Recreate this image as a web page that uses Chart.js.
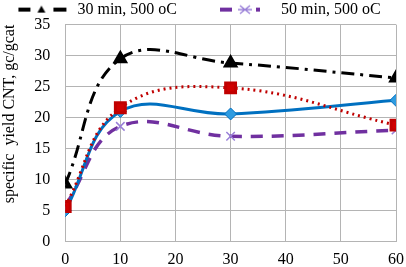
<!DOCTYPE html>
<html><head><meta charset="utf-8">
<script src="https://cdn.jsdelivr.net/npm/chart.js@4/dist/chart.umd.min.js"></script>
<style>html,body{margin:0;padding:0;background:#fff}#w{width:406px;height:267px}</style>
</head><body><div id="w"><canvas id="c"></canvas></div>
<script>
const xValues = [0, 10, 30, 60];
const s30min = [9.3, 29.5, 28.8, 26.4];
const sRed = [5.7, 21.6, 24.8, 18.8];
const sBlue = [5.0, 21.0, 20.6, 22.8];
const s50min = [5.8, 18.6, 17.0, 18.0];
const yTicks = [0, 5, 10, 15, 20, 25, 30, 35];
const xTicks = [0, 10, 20, 30, 40, 50, 60];
const legendNames = ['30 min, 500 oC', '', '', '50 min, 500 oC'];

function pts(v){ return xValues.map((x,i)=>({x:x,y:v[i]})); }

function sampleImg(kind){
  const W = 80, H = 14, off = -6;
  const c = document.createElement('canvas'); c.width = W; c.height = H;
  const g = c.getContext('2d');
  const cx = W/2 + off;
  if (kind === 'tri'){
    g.fillStyle = '#000';
    g.fillRect(cx-23, 5, 12, 4); g.fillRect(cx+12, 5, 13, 4);
    g.beginPath(); g.moveTo(cx, 3); g.lineTo(cx+4, 10); g.lineTo(cx-4, 10); g.closePath(); g.fill();
  } else {
    g.fillStyle = '#7030a0';
    g.fillRect(cx-25, 5, 12, 4); g.fillRect(cx+11, 5, 4, 4);
    g.strokeStyle = '#9a80d8'; g.lineWidth = 1.5;
    g.beginPath(); g.moveTo(cx-5,3); g.lineTo(cx+5,11); g.moveTo(cx-5,11); g.lineTo(cx+5,3); g.moveTo(cx-7,7); g.lineTo(cx+7,7); g.stroke();
  }
  return c;
}
const blank = document.createElement('canvas'); blank.width = 1; blank.height = 1;
const legImgs = [sampleImg('tri'), sampleImg('x')];

new Chart(document.getElementById('c'), {
  type: 'line',
  data: { datasets: [
    { label: legendNames[0], data: pts(s30min), borderColor:'#000', borderWidth:3, borderDash:[13,6,3,6],
      pointStyle:'triangle', pointRadius:6, pointBackgroundColor:'#000', pointBorderColor:'#000', tension:0.4, order:1 },
    { label: legendNames[1], data: pts(sRed), borderColor:'#c00000', borderWidth:3, borderDash:[2,4],
      pointStyle:'rect', pointRadius:7, pointBackgroundColor:'#d00000', pointBorderColor:'#c00000', tension:0.4, order:2 },
    { label: legendNames[2], data: pts(sBlue), borderColor:'#0070c0', borderWidth:3,
      pointStyle:'rectRot', pointRadius:6, pointBackgroundColor:'#2e9be0', pointBorderColor:'#0070c0', pointBorderWidth:1, tension:0.4, order:3 },
    { label: legendNames[3], data: pts(s50min), borderColor:'#7030a0', borderWidth:3.5, borderDash:[12,9],
      pointStyle:'crossRot', pointRadius:6, pointBorderColor:'#9a80d8', pointBorderWidth:1.5, tension:0.4, order:4 }
  ]},
  options: {
    responsive:true, maintainAspectRatio:false, animation:false,
    layout:{ padding:{ left:0, right:0, top:0, bottom:-10 } },
    plugins:{
      tooltip:{enabled:false},
      legend:{ position:'top', maxHeight:23, labels:{
        font:{family:'Liberation Serif', size:16}, color:'#000', usePointStyle:true, pointStyleWidth:44, padding:0,
        generateLabels:()=>[
          {text:legendNames[0], pointStyle:legImgs[0], datasetIndex:0, fontColor:'#000', hidden:false, lineWidth:0},
          {text:'', pointStyle:blank, datasetIndex:1, fontColor:'#000', hidden:false, lineWidth:0},
          {text:legendNames[3], pointStyle:legImgs[1], datasetIndex:3, fontColor:'#000', hidden:false, lineWidth:0}
        ]
      }}
    },
    scales:{
      x:{ type:'linear', min:0, max:60, afterBuildTicks:(a)=>{a.ticks=xTicks.map(v=>({value:v}));},
        afterFit:(s)=>{ s.paddingRight = 8; },
        grid:{color:'#b4b4b4', lineWidth:1, drawTicks:false}, border:{color:'#b4b4b4'},
        ticks:{font:{family:'Liberation Serif', size:16}, color:'#000', padding:8, maxRotation:0} },
      y:{ min:0, max:35, afterBuildTicks:(a)=>{a.ticks=yTicks.map(v=>({value:v}));},
        grid:{color:'#b4b4b4', lineWidth:1, drawTicks:false}, border:{color:'#b4b4b4'},
        ticks:{font:{family:'Liberation Serif', size:16}, color:'#000', padding:15},
        title:{display:true, align:'end', text:'specific  yield CNT, gc/gcat', font:{family:'Liberation Serif', size:16}, color:'#000', padding:{top:0,bottom:0}} }
    }
  }
});
</script></body></html>
